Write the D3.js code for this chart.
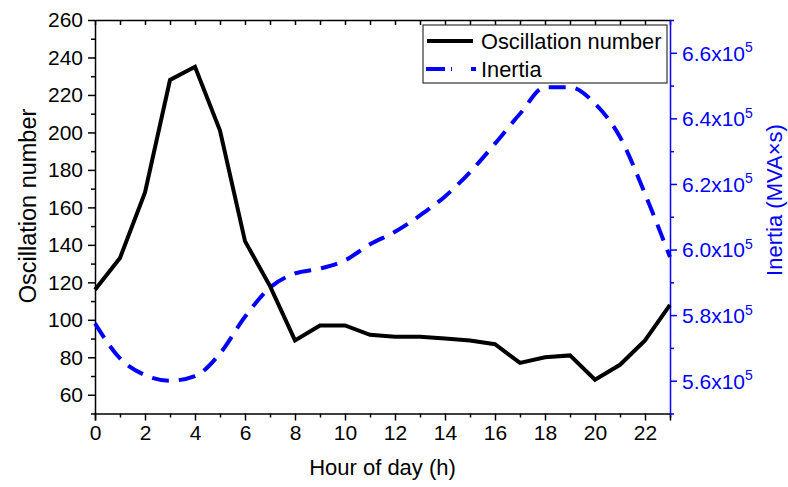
<!DOCTYPE html>
<html>
<head>
<meta charset="utf-8">
<script src="https://cdn.jsdelivr.net/npm/d3@7"></script>
<style>
  html, body { margin: 0; padding: 0; background: #fff; }
  svg { display: block; font-family: "Liberation Sans", Arial, sans-serif; }
</style>
</head>
<body>
<svg id="chart" width="788" height="487"></svg>
<script>
// Hourly data
const hours = d3.range(0, 24);
const oscillation = [116, 133, 168, 228, 235, 201, 142, 118, 89, 97, 97, 92,
                     91, 91, 90, 89, 87, 77, 80, 81, 68, 76, 89, 108];
const inertia = [5.775e5, 5.668e5, 5.617e5, 5.600e5, 5.614e5, 5.683e5, 5.795e5, 5.884e5,
                 5.927e5, 5.942e5, 5.967e5, 6.016e5, 6.054e5, 6.104e5, 6.162e5, 6.236e5,
                 6.323e5, 6.414e5, 6.495e5, 6.495e5, 6.445e5, 6.343e5, 6.170e5, 5.977e5];

// Tick values
const xMajor = d3.range(0, 24, 2);
const xMinor = d3.range(1, 24, 2);
const yLeftMajor = d3.range(60, 261, 20);
const yLeftMinor = d3.range(50, 260, 20);
const yRightMajor = [5.6e5, 5.8e5, 6.0e5, 6.2e5, 6.4e5, 6.6e5];
const yRightMinor = [5.5e5, 5.7e5, 5.9e5, 6.1e5, 6.3e5, 6.5e5, 6.7e5];

const seriesNames = ["Oscillation number", "Inertia"];
const blue = "#0000ff";

const m = { left: 95, right: 670, top: 20, bottom: 413.5 };
const svg = d3.select("#chart");

const x = d3.scaleLinear().domain([0, 23]).range([m.left, m.right]);
const yL = d3.scaleLinear().domain([50, 260]).range([m.bottom, m.top]);
const yR = d3.scaleLinear().domain([5.5e5, 6.7e5]).range([m.bottom, m.top]);

const fs = 21;

function styleAxis(g, color) {
  g.select(".domain").attr("stroke", color).attr("stroke-width", 1.5);
  g.selectAll(".tick line").attr("stroke", color).attr("stroke-width", 1.5);
  g.selectAll(".tick text").attr("fill", color).attr("font-size", fs);
}

// Bottom axis
const gx = svg.append("g").attr("transform", `translate(0,${m.bottom})`)
  .call(d3.axisBottom(x).tickValues(xMajor).tickSize(7).tickPadding(5).tickFormat(d3.format("d")));
styleAxis(gx, "#000");
svg.append("g").attr("transform", `translate(0,${m.bottom})`)
  .call(d3.axisBottom(x).tickValues(xMinor).tickSize(4).tickFormat(""))
  .call(g => { g.select(".domain").remove(); g.selectAll("line").attr("stroke", "#000").attr("stroke-width", 1.5); });

// Top axis (mirror, inward ticks)
svg.append("g").attr("transform", `translate(0,${m.top})`)
  .call(d3.axisBottom(x).tickValues(hours).tickSize(5).tickSizeOuter(0).tickFormat(""))
  .call(g => { g.select(".domain").attr("stroke", "#000").attr("stroke-width", 1.5);
               g.selectAll("line").attr("stroke", "#000").attr("stroke-width", 1.5); });

// Left axis
const gyl = svg.append("g").attr("transform", `translate(${m.left},0)`)
  .call(d3.axisLeft(yL).tickValues(yLeftMajor).tickSize(7).tickSizeOuter(0).tickPadding(5));
styleAxis(gyl, "#000");
svg.append("g").attr("transform", `translate(${m.left},0)`)
  .call(d3.axisLeft(yL).tickValues(yLeftMinor).tickSize(4).tickFormat(""))
  .call(g => { g.select(".domain").remove(); g.selectAll("line").attr("stroke", "#000").attr("stroke-width", 1.5); });

// Right axis (blue)
const gyr = svg.append("g").attr("transform", `translate(${m.right},0)`)
  .call(d3.axisRight(yR).tickValues(yRightMajor).tickSize(7).tickSizeOuter(0).tickFormat(""));
styleAxis(gyr, blue);
gyr.selectAll(".tick").each(function(d) {
  const t = d3.select(this).append("text")
    .attr("x", 12).attr("dy", "0.35em").attr("fill", blue).attr("font-size", fs);
  t.append("tspan").text(d3.format(".1f")(d / 1e5) + "x10");
  t.append("tspan").attr("font-size", 14).attr("dy", "-0.6em").text("5");
});
svg.append("g").attr("transform", `translate(${m.right},0)`)
  .call(d3.axisRight(yR).tickValues(yRightMinor).tickSize(4).tickFormat(""))
  .call(g => { g.select(".domain").remove(); g.selectAll("line").attr("stroke", blue).attr("stroke-width", 1.5); });

// Axis titles
svg.append("text").attr("x", (m.left + m.right) / 2).attr("y", 475)
  .attr("text-anchor", "middle").attr("font-size", 22).text("Hour of day (h)");
svg.append("text").attr("transform", `translate(36,206) rotate(-90)`)
  .attr("text-anchor", "middle").attr("font-size", 23.5).text("Oscillation number");
svg.append("text").attr("transform", `translate(782,200) rotate(-90)`)
  .attr("text-anchor", "middle").attr("font-size", 22).attr("fill", blue).text("Inertia (MVA×s)");

// Series
const lineOsc = d3.line().x((d, i) => x(hours[i])).y(d => yL(d));
const lineIn = d3.line().x((d, i) => x(hours[i])).y(d => yR(d)).curve(d3.curveMonotoneX);

svg.append("path").datum(inertia).attr("d", lineIn)
  .attr("fill", "none").attr("stroke", blue).attr("stroke-width", 4)
  .attr("stroke-dasharray", "17,10");
svg.append("path").datum(oscillation).attr("d", lineOsc)
  .attr("fill", "none").attr("stroke", "#000").attr("stroke-width", 4);

// Legend
const lg = svg.append("g");
lg.append("rect").attr("x", 423).attr("y", 25).attr("width", 244).attr("height", 58)
  .attr("fill", "#fff").attr("stroke", "#333").attr("stroke-width", 1.2);
lg.append("line").attr("x1", 427).attr("x2", 473).attr("y1", 41).attr("y2", 41)
  .attr("stroke", "#000").attr("stroke-width", 4);
lg.append("line").attr("x1", 426).attr("x2", 476).attr("y1", 69).attr("y2", 69)
  .attr("stroke", blue).attr("stroke-width", 4).attr("stroke-dasharray", "19,6,1,19,5,100");
lg.append("text").attr("x", 481).attr("y", 41).attr("dy", "0.35em")
  .attr("font-size", 21.8).text(seriesNames[0]);
lg.append("text").attr("x", 481).attr("y", 69).attr("dy", "0.35em")
  .attr("font-size", 21.8).text(seriesNames[1]);
</script>
</body>
</html>
